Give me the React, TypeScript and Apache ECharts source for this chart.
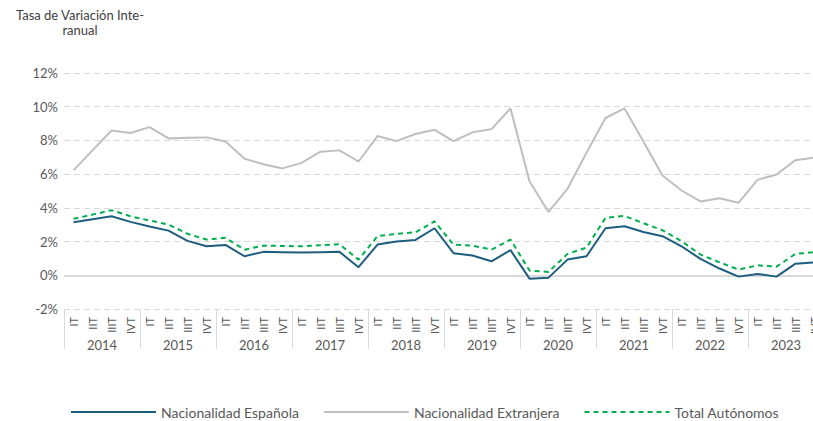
import React, { useEffect, useRef } from "react";
import * as echarts from "echarts";

const years = ["2014", "2015", "2016", "2017", "2018", "2019", "2020", "2021", "2022", "2023"];
const quarterNames = ["IT", "IIT", "IIIT", "IVT"];
const quarters: string[] = years.flatMap(() => quarterNames);

const espanola = [
  3.15, 3.33, 3.5, 3.17, 2.89, 2.65, 2.04, 1.72, 1.8, 1.13,
  1.39, 1.37, 1.35, 1.37, 1.39, 0.48, 1.82, 2.0, 2.1, 2.79,
  1.31, 1.17, 0.83, 1.49, -0.2, -0.14, 0.93, 1.13, 2.79, 2.91,
  2.57, 2.32, 1.72, 0.97, 0.4, -0.08, 0.08, -0.08, 0.69, 0.77,
];
const extranjera = [
  6.22, 7.41, 8.59, 8.44, 8.79, 8.12, 8.16, 8.18, 7.94, 6.91,
  6.59, 6.34, 6.67, 7.33, 7.41, 6.75, 8.26, 7.96, 8.38, 8.63,
  7.96, 8.48, 8.67, 9.9, 5.58, 3.76, 5.13, 7.27, 9.33, 9.9,
  7.92, 5.92, 5.03, 4.38, 4.57, 4.3, 5.66, 5.98, 6.83, 6.99,
];
const total = [
  3.35, 3.6, 3.86, 3.5, 3.25, 3.01, 2.46, 2.12, 2.22, 1.52,
  1.76, 1.74, 1.72, 1.78, 1.84, 0.93, 2.32, 2.46, 2.55, 3.2,
  1.82, 1.76, 1.52, 2.12, 0.28, 0.2, 1.27, 1.64, 3.41, 3.52,
  3.09, 2.67, 2.02, 1.23, 0.77, 0.34, 0.59, 0.51, 1.27, 1.37,
];
const yTicks = { min: -2, max: 12, interval: 2 };

const FONT = "Lato";

export default function App() {
  const ref = useRef<HTMLDivElement>(null);
  useEffect(() => {
    if (!ref.current) return;
    const chart = echarts.init(ref.current, undefined, { renderer: "svg" });
    chart.setOption({
      animation: false,
      textStyle: { fontFamily: FONT },
      graphic: [
        {
          type: "text",
          x: 80,
          y: 7,
          style: {
            text: "Tasa de Variación Inte-\nranual",
            fontFamily: FONT,
            fontSize: 13,
            lineHeight: 15,
            fill: "#404040",
            align: "center",
            verticalAlign: "top",
          },
        },
      ],
      legend: {
        left: 65,
        top: 400,
        itemWidth: 85,
        itemHeight: 10,
        itemGap: 24,
        itemStyle: { opacity: 0 },
        textStyle: { fontFamily: FONT, fontSize: 14, color: "#595959" },
        data: ["Nacionalidad Española", "Nacionalidad Extranjera", "Total Autónomos"],
      },
      grid: { left: 64, right: 0, top: 73, bottom: 112, containLabel: false },
      xAxis: [
        {
          type: "category",
          data: quarters,
          position: "bottom",
          axisLine: { show: false },
          axisTick: { show: false },
          axisLabel: {
            interval: 0,
            rotate: 90,
            margin: 8,
            fontFamily: FONT,
            fontSize: 11,
            color: "#595959",
          },
          splitLine: { show: false },
        },
        {
          type: "category",
          data: years,
          position: "bottom",
          axisLine: { show: false },
          axisTick: { show: true, length: 40, lineStyle: { color: "#d9d9d9", width: 1 } },
          axisLabel: {
            interval: 0,
            margin: 29,
            fontFamily: FONT,
            fontSize: 13,
            color: "#595959",
          },
          splitLine: { show: false },
        },
      ],
      yAxis: {
        type: "value",
        min: yTicks.min,
        max: yTicks.max,
        interval: yTicks.interval,
        axisLine: { show: false },
        axisTick: { show: false },
        axisLabel: {
          formatter: (v: number) => `${v}%`,
          fontFamily: FONT,
          fontSize: 13,
          color: "#595959",
          margin: 6,
        },
        splitLine: { lineStyle: { color: "#d9d9d9", type: [6, 4], width: 1 } },
      },
      series: [
        {
          name: "Nacionalidad Española",
          type: "line",
          data: espanola,
          symbol: "none",
          lineStyle: { color: "#1d5d80", width: 2 },
          itemStyle: { color: "#1d5d80" },
          z: 3,
          markLine: {
            silent: true,
            symbol: "none",
            label: { show: false },
            lineStyle: { color: "#d9d9d9", type: "solid", width: 2 },
            data: [{ yAxis: 0 }],
            z: 1,
          },
        },
        {
          name: "Nacionalidad Extranjera",
          type: "line",
          data: extranjera,
          symbol: "none",
          lineStyle: { color: "#bfbfbf", width: 2 },
          itemStyle: { color: "#bfbfbf" },
          z: 2,
        },
        {
          name: "Total Autónomos",
          type: "line",
          data: total,
          symbol: "none",
          lineStyle: { color: "#00b050", width: 2, type: [5, 4] },
          itemStyle: { color: "#00b050" },
          z: 4,
        },
      ],
    });
    return () => chart.dispose();
  }, []);
  return (
    <div
      style={{ position: "fixed", left: 0, top: 0, width: 813, height: 421, overflow: "hidden", background: "#fff" }}
    >
      <div ref={ref} style={{ width: 824, height: 421 }} />
    </div>
  );
}
